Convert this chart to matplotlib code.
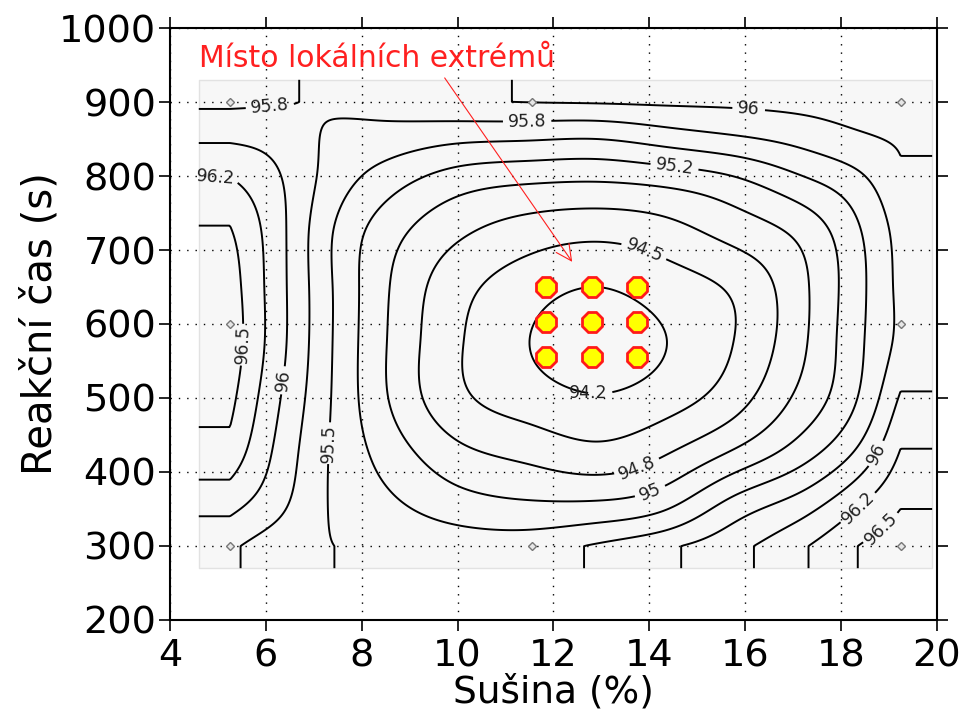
import numpy as np
import matplotlib
matplotlib.use('Agg')
import matplotlib.pyplot as plt

# values of the response read at a grid inside the measured area
susina = [5.25, 6.25, 7.25, 8.5, 10, 11.5, 12.9, 14.3, 15.8, 17.2, 18.3, 19.24]
cas = [300, 350, 425, 500, 577, 650, 725, 800, 850, 900]
odezva = [
  [95.8, 95.6, 95.51, 95.45, 95.4, 95.4, 95.53, 95.7, 95.93, 96.22, 96.49, 96.65],
  [96.05, 95.8, 95.51, 95.32, 95.14, 95.07, 95.09, 95.23, 95.64, 95.92, 96.24, 96.5],
  [96.4, 95.94, 95.52, 95.16, 94.82, 94.68, 94.58, 94.73, 95.05, 95.4, 95.78, 96.27],
  [96.57, 96.03, 95.55, 95.02, 94.56, 94.37, 94.27, 94.38, 94.65, 95.08, 95.48, 96.03],
  [96.65, 96.1, 95.57, 95.01, 94.53, 94.25, 94.1, 94.24, 94.51, 94.96, 95.42, 95.82],
  [96.62, 96.1, 95.57, 95.03, 94.59, 94.36, 94.25, 94.37, 94.55, 94.95, 95.4, 95.82],
  [96.52, 96.09, 95.57, 95.12, 94.8, 94.63, 94.57, 94.65, 94.85, 95.08, 95.45, 95.85],
  [96.24, 96.02, 95.69, 95.4, 95.16, 95.08, 95.06, 95.12, 95.26, 95.5, 95.7, 95.97],
  [95.97, 95.9, 95.73, 95.64, 95.55, 95.52, 95.5, 95.6, 95.71, 95.83, 95.95, 96.03],
  [95.7, 95.73, 95.78, 95.86, 95.965, 96.005, 96.02, 96.04, 96.05, 96.08, 96.11, 96.15],
]

hladiny = [94.25, 94.5, 94.75, 95.0, 95.25, 95.5, 95.75, 96.0, 96.25, 96.5]
hladiny_text = ['94.2', '94.5', '94.8', '95', '95.2', '95.5', '95.8', '96', '96.2', '96.5']

# measured points
mereni_x = [5.25, 5.25, 5.25, 11.56, 11.56, 19.24, 19.24, 19.24]
mereni_y = [300, 600, 900, 300, 900, 300, 600, 900]

# local extremes
extrem_x = [11.85, 12.8, 13.75]
extrem_y = [555, 603, 650]

oblast_x = [4.6, 19.9]
oblast_y = [270, 930]


def spline_vahy(uzly, q):
  # natural cubic spline written as weights on the node values
  uzly = np.asarray(uzly, float)
  n = len(uzly)
  h = np.diff(uzly)
  A = np.zeros((n, n))
  B = np.zeros((n, n))
  A[0, 0] = 1
  A[-1, -1] = 1
  for i in range(1, n - 1):
    A[i, i - 1] = h[i - 1] / 6
    A[i, i] = (h[i - 1] + h[i]) / 3
    A[i, i + 1] = h[i] / 6
    B[i, i - 1] = 1 / h[i - 1]
    B[i, i] = -1 / h[i - 1] - 1 / h[i]
    B[i, i + 1] = 1 / h[i]
  S = np.linalg.solve(A, B)
  idx = np.clip(np.searchsorted(uzly, q) - 1, 0, n - 2)
  W = np.zeros((len(q), n))
  for r, (qq, i) in enumerate(zip(q, idx)):
    hi = h[i]
    t = qq - uzly[i]
    s = uzly[i + 1] - qq
    W[r, i] += s / hi
    W[r, i + 1] += t / hi
    W[r] += (s ** 3 / (6 * hi) - hi * s / 6) * S[i] + (t ** 3 / (6 * hi) - hi * t / 6) * S[i + 1]
  return W


def povrch():
  xs = np.linspace(oblast_x[0], oblast_x[1], 600)
  ys = np.linspace(oblast_y[0], oblast_y[1], 600)
  # outside the measured area the surface is held constant
  Wx = spline_vahy(susina, np.clip(xs, susina[0], susina[-1]))
  Wy = spline_vahy(cas, np.clip(ys, cas[0], cas[-1]))
  ZZ = Wy @ np.array(odezva) @ Wx.T
  XX, YY = np.meshgrid(xs, ys)
  return XX, YY, ZZ


def main():
  fig = plt.figure(figsize=(9.59, 7.22), dpi=100)
  ax = fig.add_axes([0.1773, 0.1413, 0.7997, 0.8199])

  ax.fill_between(oblast_x, oblast_y[0], oblast_y[1], facecolor='#f7f7f7',
                  edgecolor='#e2e2e2', lw=1, zorder=0.5)

  XX, YY, ZZ = povrch()
  cs = ax.contour(XX, YY, ZZ, levels=hladiny, colors='black', linewidths=1.4, zorder=2)
  fmt = dict(zip(cs.levels, hladiny_text))
  pozice = [(6.09, 889), (11.45, 876), (16.06, 882), (4.95, 797), (14.53, 815),
            (13.9, 700), (5.52, 572), (6.34, 524), (7.28, 439), (12.72, 504),
            (13.74, 407), (14.0, 376), (18.66, 427), (18.4, 349), (18.8, 326)]
  ax.clabel(cs, fmt=fmt, fontsize=12.5, inline=True, inline_spacing=6, manual=pozice,
            colors='#222222')

  ax.plot(mereni_x, mereni_y, 'D', ms=4, mfc='#e6e6e6', mec='#777777', mew=1,
          zorder=3, linestyle='none')

  ex, ey = np.meshgrid(extrem_x, extrem_y)
  ax.plot(ex.ravel(), ey.ravel(), '8', ms=15, mfc='#ffff00', mec='#ff1a1a', mew=2,
          zorder=4, linestyle='none')

  ax.annotate('Místo lokálních extrémů', xy=(12.39, 684), xytext=(8.32, 959),
              ha='center', va='center', color='#ff2020', fontsize=21.5,
              arrowprops=dict(arrowstyle='->', color='#ff2020', lw=0.8,
                              mutation_scale=28, relpos=(0.68, 0.0), shrinkA=2, shrinkB=0))

  ax.set_xlim(4, 20)
  ax.set_ylim(200, 1000)
  ax.set_xticks(np.arange(4, 21, 2))
  ax.set_yticks(np.arange(200, 1001, 100))
  ax.grid(True, color='black', linestyle=(0, (1, 5)), lw=1)
  ax.tick_params(direction='out', length=8, width=1.2, labelsize=27.5,
                 top=True, right=True)
  ax.tick_params(axis='y', pad=2)
  ax.tick_params(axis='x', pad=5)
  for s in ax.spines.values():
    s.set_linewidth(1.5)
  ax.set_xlabel('Sušina (%)', fontsize=27, labelpad=0)
  ax.set_ylabel('Reakční čas (s)', fontsize=29, labelpad=-1)

  fig.savefig('out.png', dpi=100)


if __name__ == '__main__':
  main()
